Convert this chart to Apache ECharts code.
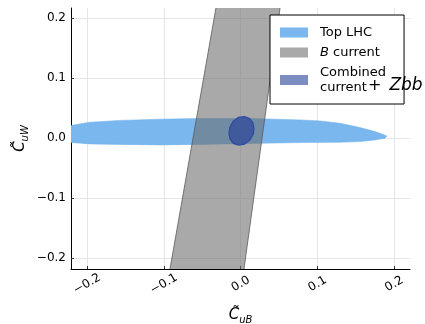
<!DOCTYPE html>
<html><head><meta charset="utf-8">
<script src="https://cdn.jsdelivr.net/npm/echarts@6/dist/echarts.min.js"></script>
<style>html,body{margin:0;padding:0;background:#fff}#c{width:425px;height:324px}</style>
</head><body><div id="c"></div>
<script>
// Axis ticks
const xTicks = [-0.2, -0.1, 0.0, 0.1, 0.2];
const yTicks = [-0.2, -0.1, 0.0, 0.1, 0.2];
const xRange = [-0.221, 0.2205];
const yRange = [-0.218, 0.217];

// Series names
const names = ['Top LHC', 'B current', 'Combined current +Zbb'];

// Top LHC contour (C_uB, C_uW)
const topLHC = [
  [-0.2353, 0.0188], [-0.221, 0.0213], [-0.1963, 0.0267], [-0.1572, 0.0297], [-0.1051, 0.0317],
  [-0.0530, 0.0330], [0.0121, 0.0330], [0.0772, 0.0305], [0.1032, 0.0288], [0.1293, 0.0250],
  [0.1553, 0.0177], [0.1749, 0.0110], [0.1853, 0.0063], [0.1905, 0.0038],
  [0.1879, 0.0000], [0.1749, -0.0028], [0.1553, -0.0057], [0.1293, -0.0067], [0.0772, -0.0073],
  [0.0121, -0.0087], [-0.0530, -0.0103], [-0.1051, -0.0112], [-0.1572, -0.0103], [-0.1963, -0.0095],
  [-0.221, -0.0070], [-0.2353, -0.0062]
];

// B current band contour
const bCurrent = [
  [-0.0277, 0.25], [0.0548, 0.25], [0.0008, -0.25], [-0.0965, -0.25]
];

// Combined contour
const combined = [
  [0.0049, 0.0360], [0.0115, 0.0330], [0.0158, 0.0263], [0.0173, 0.0163], [0.0163, 0.0063],
  [0.0121, -0.0028], [0.0049, -0.0100], [-0.0029, -0.0117], [-0.0094, -0.0087], [-0.0139, -0.0012],
  [-0.0152, 0.0080], [-0.0142, 0.0180], [-0.0100, 0.0280], [-0.0029, 0.0347]
];

function fmt(v) {
  const s = Math.abs(v).toFixed(1);
  return v < -1e-9 ? '\u2212' + s : s;
}
function inTicks(list, v) { return list.some(t => Math.abs(t - v) < 1e-9); }

function polySeries(name, pts, fill, stroke, lw, legendColor, z) {
  return {
    name: name, type: 'custom', clip: true, z: z,
    itemStyle: { color: legendColor },
    data: pts,
    encode: { x: 0, y: 1 },
    renderItem: function (params, api) {
      if (params.dataIndex !== 0) return;
      const p = pts.map(q => api.coord(q));
      return { type: 'polygon', shape: { points: p },
        style: { fill: fill, stroke: stroke, lineWidth: lw } };
    }
  };
}

const chart = echarts.init(document.getElementById('c'), null, { renderer: 'canvas' });
const font = 'DejaVu Sans';
chart.setOption({
  animation: false,
  backgroundColor: '#fff',
  textStyle: { fontFamily: font },
  grid: { left: 71, right: 15, top: 8, bottom: 55, containLabel: false, outerBoundsMode: 'none' },
  xAxis: {
    type: 'value', min: xRange[0], max: xRange[1], splitNumber: 4,
    name: '{c|C\u0303}{s|uB}', nameLocation: 'middle', nameGap: 37, nameMoveOverlap: false,
    nameTextStyle: { rich: {
      c: { fontFamily: font, fontStyle: 'italic', fontSize: 15, color: '#000' },
      s: { fontFamily: font, fontStyle: 'italic', fontSize: 10, color: '#000', padding: [9, 0, 0, 0] }
    } },
    axisLine: { show: true, onZero: false, lineStyle: { color: '#000', width: 1 } },
    axisTick: { show: true, inside: true, length: 3, lineStyle: { color: '#333' } },
    axisLabel: { rotate: 30, align: 'center', verticalAlign: 'middle', margin: 15,
      fontSize: 12, color: '#000', fontFamily: font,
      showMinLabel: false, showMaxLabel: false,
      formatter: v => inTicks(xTicks, v) ? fmt(v) : '' },
    splitLine: { show: true, showMinLine: false, showMaxLine: false, lineStyle: { color: '#e6e6e6', width: 1 } }
  },
  yAxis: {
    type: 'value', min: yRange[0], max: yRange[1], splitNumber: 4,
    name: '{c|C\u0303}{s|uW}', nameLocation: 'middle', nameGap: 41, nameMoveOverlap: false,
    nameTextStyle: { rich: {
      c: { fontFamily: font, fontStyle: 'italic', fontSize: 15, color: '#000' },
      s: { fontFamily: font, fontStyle: 'italic', fontSize: 10, color: '#000', padding: [9, 0, 0, 0] }
    } },
    axisLine: { show: true, onZero: false, lineStyle: { color: '#000', width: 1 } },
    axisTick: { show: true, inside: true, length: 3, lineStyle: { color: '#333' } },
    axisLabel: { margin: 5, fontSize: 12, color: '#000', fontFamily: font,
      showMinLabel: false, showMaxLabel: false,
      formatter: v => inTicks(yTicks, v) ? fmt(v) : '' },
    splitLine: { show: true, showMinLine: false, showMaxLine: false, lineStyle: { color: '#e6e6e6', width: 1 } }
  },
  legend: {
    left: 270, top: 15, orient: 'vertical',
    backgroundColor: '#fff', borderColor: '#000', borderWidth: 1, borderRadius: 0,
    padding: [11, 18, 10, 10], itemGap: 7, itemWidth: 28, itemHeight: 10,
    icon: 'rect',
    data: names,
    formatter: function (n) {
      if (n === names[1]) return '{ai|B}{t| current}';
      if (n === names[2]) return '{a|Combined}\n{a|current}';
      return '{a|' + n + '}';
    },
    textStyle: { fontFamily: font, fontSize: 13, color: '#000', rich: {
      a: { fontFamily: font, fontSize: 13, color: '#000', lineHeight: 15, padding: [0, 0, 0, 7] },
      ai: { fontFamily: font, fontSize: 13, fontStyle: 'italic', color: '#000', lineHeight: 15, padding: [0, 0, 0, 7] },
      t: { fontFamily: font, fontSize: 13, color: '#000', lineHeight: 15 }
    } }
  },
  graphic: [{
    type: 'text', left: 368, top: 77, z: 100,
    style: { text: '{m|+}{z|Zbb}', rich: {
      m: { fontFamily: font, fontSize: 16, fill: '#000' },
      z: { fontFamily: font, fontSize: 17, fontStyle: 'italic', fill: '#000', padding: [0, 0, 0, 8] }
    } }
  }],
  series: [
    polySeries(names[0], topLHC, '#79b7ee', '#6aaee9', 0.5, '#79b7ee', 1),
    polySeries(names[1], bCurrent, 'rgba(106,106,106,0.58)', '#5a5a5a', 0.8, '#a9a9a9', 2),
    polySeries(names[2], combined, '#405a9b', '#2c4aa6', 1.2, '#7b8cbf', 3)
  ]
});
</script></body></html>
